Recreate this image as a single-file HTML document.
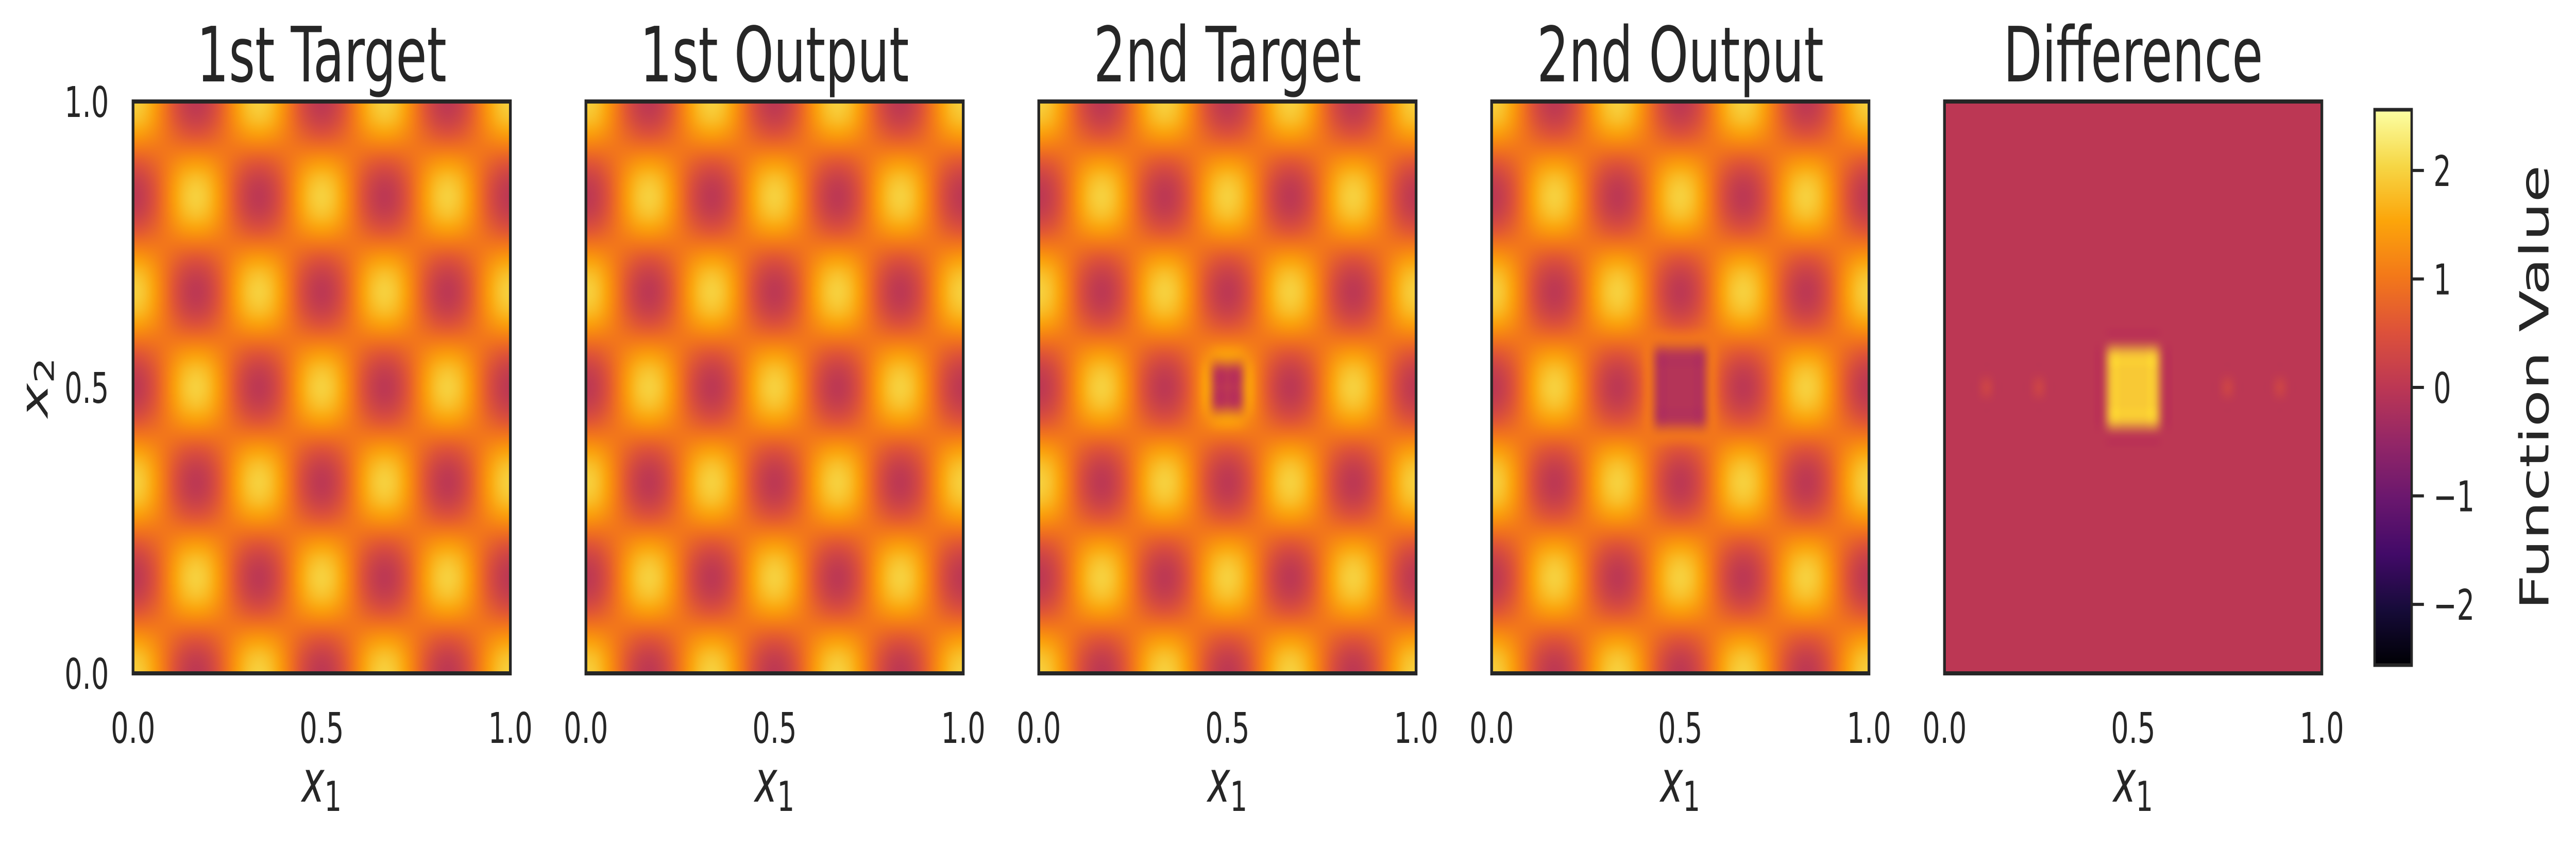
<!DOCTYPE html>
<html><head><meta charset="utf-8"><style>
html,body{margin:0;padding:0;background:#fff;overflow:hidden;}
#wrap{position:relative;width:100vw;height:100vh;overflow:hidden;}
#cv,#sv{position:absolute;left:0;top:0;width:100vw;height:100vh;}
</style></head><body>
<div id="wrap">
<canvas id="cv" width="7571" height="1646"></canvas>
<svg id="sv" viewBox="0 0 7571 1646" preserveAspectRatio="none" xmlns="http://www.w3.org/2000/svg" font-family="DejaVu Sans, Liberation Sans, sans-serif" fill="#262626"></svg>
</div>
<script>
// ---- data ----
const titles = ["1st Target","1st Output","2nd Target","2nd Output","Difference"];
const xTickLabels = ["0.0","0.5","1.0"];
const xTickValues = [0,0.5,1];
const yTickLabels = ["0.0","0.5","1.0"];
const yTickValues = [0,0.5,1];
const cbarTickValues = [-2,-1,0,1,2];
const cbarTickLabels = ["\u22122","\u22121","0","1","2"];
const vmin = -2.56, vmax = 2.56;
// sampled profile along each axis (37 samples over [0,1])
const profile = [1,.866,.5,0,-.5,-.866,-1,-.866,-.5,0,.5,.866,
                 1,.866,.5,0,-.5,-.866,-1,-.866,-.5,0,.5,.866,
                 1,.866,.5,0,-.5,-.866,-1,-.866,-.5,0,.5,.866,1];
const baseOffset = 1;
const squareCells = [17,18,19];          // masked square in 2nd target
const outputHoleCells = [16,17,18,19,20];
const outputHoleValue = -0.1;
const diffSquareCells = [16,17,18,19,20];
const diffSquareValue = 1.9;
const diffArtifactCols = [4,9,27,32];
const diffArtifactValue = 0.3;

// ---- build grids ----
const N = profile.length;
function baseGrid(){const g=[];for(let j=0;j<N;j++){const r=[];for(let i=0;i<N;i++)r.push(baseOffset+profile[i]*profile[j]);g.push(r);}return g;}
const target1 = baseGrid();
const output1 = baseGrid();
const target2 = baseGrid();
squareCells.forEach(j=>squareCells.forEach(i=>{target2[j][i]=0;}));
const output2 = baseGrid();
outputHoleCells.forEach(j=>outputHoleCells.forEach(i=>{output2[j][i]=outputHoleValue;}));
const diff = [];for(let j=0;j<N;j++){diff.push(new Array(N).fill(0));}
diffSquareCells.forEach(j=>diffSquareCells.forEach(i=>{diff[j][i]=diffSquareValue;}));
diffArtifactCols.forEach(i=>{diff[18][i]=diffArtifactValue;});
const grids = [target1,output1,target2,output2,diff];

// ---- colormap ----
const inferno = [[0,0,0,4],[.1,22,11,57],[.2,66,10,104],[.3,106,23,110],[.4,147,38,103],[.5,188,55,84],[.6,221,81,58],[.7,243,120,25],[.8,252,165,10],[.9,246,215,70],[1,252,255,164]];
function cmap(v){let t=(v-vmin)/(vmax-vmin);t=Math.max(0,Math.min(1,t));
 for(let k=1;k<inferno.length;k++){if(t<=inferno[k][0]){const a=inferno[k-1],b=inferno[k];const f=(t-a[0])/(b[0]-a[0]);
 return [a[1]+f*(b[1]-a[1]),a[2]+f*(b[2]-a[2]),a[3]+f*(b[3]-a[3])];}}return [252,255,164];}

// ---- layout ----
const axLeft0 = 391, axStride = 1331, axW = 1109, axTop = 197, axH = 1110;
function xScale(p,v){return axLeft0+p*axStride+v*axW;}
function yScale(v){return axTop+axH-v*axH;}
const cbX = 6979, cbW = 109, cbTop = 213, cbBot = 1291;
function cbScale(v){return cbBot-(v-vmin)/(vmax-vmin)*(cbBot-cbTop);}

const ctx = document.getElementById('cv').getContext('2d');
const svg = document.getElementById('sv');
const NS = "http://www.w3.org/2000/svg";
function mk(tag,attrs,parent){const e=document.createElementNS(NS,tag);for(const k in attrs)e.setAttribute(k,attrs[k]);(parent||svg).appendChild(e);return e;}

grids.forEach((g,p)=>{
  const off=document.createElement('canvas');off.width=N;off.height=N;
  const oc=off.getContext('2d');const im=oc.createImageData(N,N);
  for(let j=0;j<N;j++)for(let i=0;i<N;i++){const c=cmap(g[j][i]);const idx=((N-1-j)*N+i)*4;
    im.data[idx]=c[0];im.data[idx+1]=c[1];im.data[idx+2]=c[2];im.data[idx+3]=255;}
  oc.putImageData(im,0,0);
  const x0=xScale(p,0), cell=axW/(N-1), cellH=axH/(N-1);
  ctx.save();ctx.beginPath();ctx.rect(x0,axTop,axW,axH);ctx.clip();
  ctx.imageSmoothingEnabled=true;ctx.imageSmoothingQuality='high';
  ctx.drawImage(off,x0-cell/2,axTop-cellH/2,cell*N,cellH*N);ctx.restore();

  const grp=mk('g',{});
  
  
  const fr=mk('rect',{x:x0,y:axTop,width:axW,height:axH,fill:'none',stroke:'#262626','stroke-width':8},grp);
  
  
  const t=mk('text',{x:x0+axW/2,y:158,'text-anchor':'middle','font-size':148},grp);t.textContent=titles[p];
  
  
  xTickValues.forEach((v,k)=>{const tl=mk('text',{x:xScale(p,v),y:1442,'text-anchor':'middle','font-size':82},grp);tl.textContent=xTickLabels[k];
    
    });
  const xl=mk('text',{x:x0+axW/2,y:1556,'text-anchor':'middle','font-size':112},grp);
  
  
  mk('tspan',{'font-style':'italic'},xl).textContent='x';
  mk('tspan',{'font-size':80,dy:18},xl).textContent='1';
});
// y axis (first panel)
yTickValues.forEach((v,k)=>{const tl=mk('text',{x:320,y:yScale(v)+30,'text-anchor':'end','font-size':82});tl.textContent=yTickLabels[k];
  
  });
const yl=mk('text',{x:0,y:0,'text-anchor':'middle','font-size':112,transform:'translate(140,752) rotate(-90)'});


mk('tspan',{'font-style':'italic'},yl).textContent='x';
mk('tspan',{'font-size':80,dy:18},yl).textContent='2';

// colorbar
const defs=mk('defs',{});
const lg=mk('linearGradient',{id:'cbg',x1:0,y1:1,x2:0,y2:0},defs);
inferno.forEach(s=>mk('stop',{offset:s[0],'stop-color':'rgb('+s[1]+','+s[2]+','+s[3]+')'},lg));
const cb=mk('rect',{x:cbX,y:cbTop,width:cbW,height:cbBot-cbTop,fill:'url(#cbg)',stroke:'#262626','stroke-width':7});


cbarTickValues.forEach((v,k)=>{const y=cbScale(v);
  const ln=mk('line',{x1:cbX+cbW,x2:cbX+cbW+36,y1:y,y2:y,stroke:'#262626','stroke-width':6});
  
  
  const tl=mk('text',{x:7152,y:y+30,'font-size':82});tl.textContent=cbarTickLabels[k];
  
  });
const cl=mk('text',{x:0,y:0,'text-anchor':'middle','font-size':118,transform:'translate(7490,752) rotate(-90)'});
cl.textContent='Function Value';


</script>
</body></html>
